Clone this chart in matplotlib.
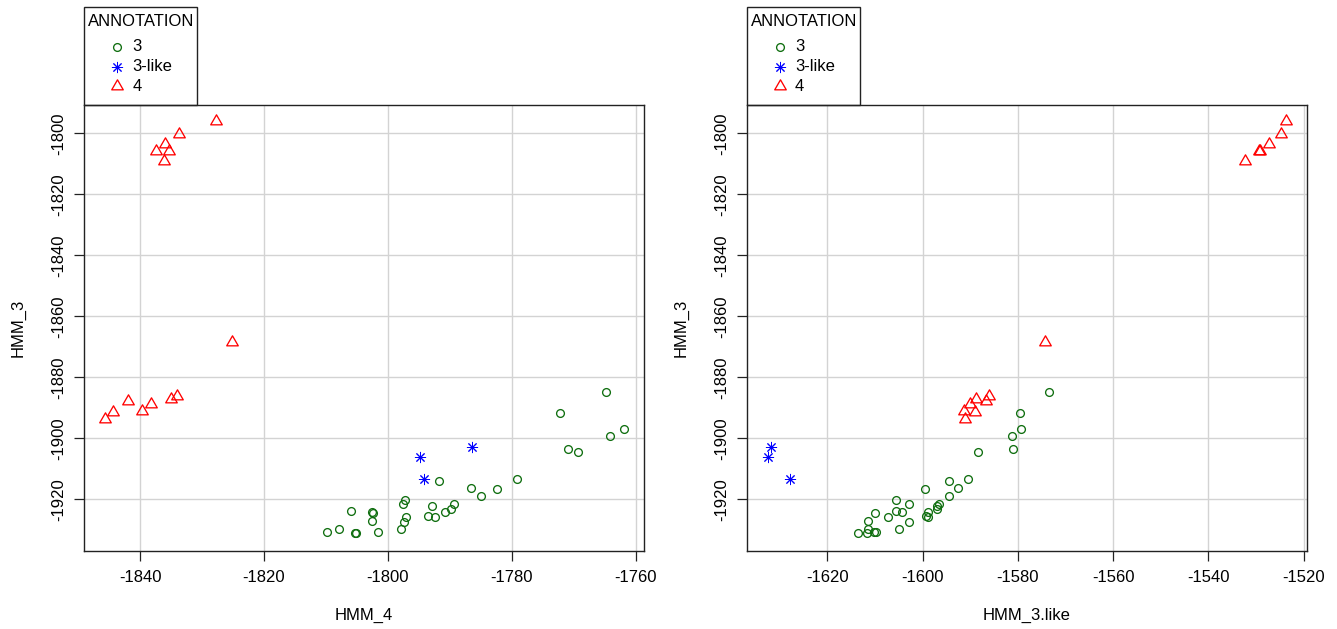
import matplotlib
matplotlib.use("Agg")
import matplotlib.pyplot as plt
from matplotlib.patches import Rectangle
from matplotlib.path import Path

plt.rcParams['font.family'] = ['Liberation Sans', 'DejaVu Sans']
plt.rcParams['font.size'] = 12

# --- data (HMM_3, HMM_4, HMM_3.like) per annotation ---
hmm3_g4 = [-1795.9, -1800.2, -1803.6, -1805.8, -1805.9, -1809.0, -1868.5,
           -1886.0, -1887.0, -1887.9, -1888.6, -1890.9, -1891.5, -1893.6]
hmm4_g4 = [-1827.8, -1833.7, -1836.0, -1837.5, -1835.3, -1836.1, -1825.2,
           -1834.1, -1835.0, -1842.0, -1838.3, -1839.6, -1844.4, -1845.7]
like_g4 = [-1523.8, -1524.8, -1527.2, -1529.3, -1529.1, -1532.3, -1574.2,
           -1586.0, -1588.7, -1586.7, -1590.1, -1591.3, -1589.0, -1591.0]

hmm3_g3like = [-1902.7, -1906.0, -1913.3]
hmm4_g3like = [-1786.4, -1794.8, -1794.1]
like_g3like = [-1631.9, -1632.4, -1627.8]

hmm3_g3 = [-1884.9, -1891.7, -1897.0, -1899.1, -1903.6, -1904.6, -1913.2,
           -1914.1, -1916.4, -1916.5, -1918.8, -1920.2, -1921.4, -1921.5,
           -1922.3, -1923.2, -1923.7, -1924.2, -1924.3, -1924.6, -1925.4,
           -1925.7, -1925.9, -1927.1, -1927.6, -1929.7, -1929.8, -1930.6,
           -1930.6, -1931.0, -1931.2]
hmm4_g3 = [-1764.8, -1772.2, -1761.9, -1764.2, -1770.9, -1769.3, -1779.2,
           -1791.8, -1786.5, -1782.4, -1785.0, -1797.2, -1797.5, -1789.3,
           -1792.8, -1789.8, -1806.0, -1802.5, -1790.7, -1802.4, -1793.6,
           -1792.4, -1797.0, -1802.6, -1797.4, -1807.9, -1797.8, -1801.6,
           -1809.8, -1805.3, -1805.2]
like_g3 = [-1573.5, -1579.6, -1579.4, -1581.2, -1581.1, -1588.4, -1590.5,
           -1594.4, -1592.6, -1599.5, -1594.5, -1605.5, -1602.9, -1596.6,
           -1597.0, -1597.0, -1605.5, -1598.9, -1604.3, -1609.9, -1599.2,
           -1598.9, -1607.3, -1611.5, -1602.9, -1611.5, -1604.9, -1610.2,
           -1609.8, -1613.6, -1611.7]

labels = ['3', '3-like', '4']
yticks = [-1800, -1820, -1840, -1860, -1880, -1900, -1920]
xticks_left = [-1840, -1820, -1800, -1780, -1760]
xticks_right = [-1620, -1600, -1580, -1560, -1540, -1520]

GREEN = '#0f6e0f'
# open triangle like R's pch=2
tri = Path([(-1, -0.5774), (1, -0.5774), (0, 1.1547), (-1, -0.5774)],
           [Path.MOVETO, Path.LINETO, Path.LINETO, Path.CLOSEPOLY])
styles = [
    dict(marker='o', ms=5.6, mfc='none', mec=GREEN, mew=0.95),
    dict(marker=(8, 2, 0), ms=8, mfc='none', mec='blue', mew=0.7),
    dict(marker=tri, ms=9.6, mfc='none', mec='red', mew=0.95),
]


def draw_panel(ax, xs, ys, xlim, xticks, xlabel):
    for x, y, st in zip(xs, ys, styles):
        ax.plot(x, y, ls='none', **st)
    ax.set_xlim(*xlim)
    ax.set_ylim(-1936.8, -1790.7)
    ax.set_xticks(xticks)
    ax.set_yticks(yticks)
    ax.set_xticklabels([str(t) for t in xticks])
    ax.set_yticklabels([str(t) for t in yticks], rotation=90, va='center')
    ax.grid(True, color='#d3d3d3', lw=1.0)
    ax.set_axisbelow(True)
    for s in ax.spines.values():
        s.set_color('#222222')
        s.set_linewidth(1.0)
    ax.tick_params(length=7.2, width=0.9, color='#222222', pad=6.5)
    ax.tick_params(axis='y', pad=5.5)
    ax.set_xlabel(xlabel)
    ax.xaxis.set_label_coords(0.5, -0.128)
    ax.set_ylabel('HMM_3')
    ax.yaxis.set_label_coords(-0.104, 0.5)

    # legend box sitting on top of the plot, R style
    ax.add_patch(Rectangle((0, 1.0), 0.202, 0.2193, transform=ax.transAxes,
                           fill=False, ec='#222222', lw=1.0, clip_on=False))
    ax.text(0.0075, 1.187, 'ANNOTATION', transform=ax.transAxes,
            ha='left', va='center')
    for row, (lab, st) in enumerate(zip(labels, styles)):
        yy = 1.1302 - row * 0.0438
        ax.plot([0.059], [yy], transform=ax.transAxes, clip_on=False,
                ls='none', **st)
        ax.text(0.0863, yy, lab, transform=ax.transAxes, ha='left', va='center')


fig = plt.figure(figsize=(13.37, 6.29), dpi=100)
ax1 = fig.add_axes([0.06283, 0.1248, 0.41907, 0.70827])
ax2 = fig.add_axes([0.55849, 0.1248, 0.41885, 0.70827])

draw_panel(ax1, [hmm4_g3, hmm4_g3like, hmm4_g4], [hmm3_g3, hmm3_g3like, hmm3_g4],
           (-1849.04, -1758.61), xticks_left, 'HMM_4')
draw_panel(ax2, [like_g3, like_g3like, like_g4], [hmm3_g3, hmm3_g3like, hmm3_g4],
           (-1636.92, -1519.37), xticks_right, 'HMM_3.like')

fig.savefig('out.png', dpi=100)
